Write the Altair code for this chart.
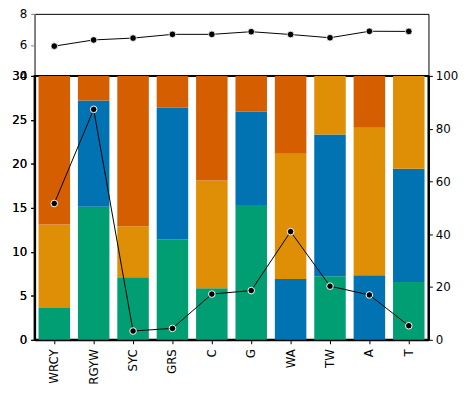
import altair as alt
import pandas as pd

categories = ["WRCY", "RGYW", "SYC", "GRS", "C", "G", "WA", "TW", "A", "T"]
series = ["S1", "S2", "S3", "S4"]
colors = ["#029E73", "#0173B2", "#DE8F05", "#D55E00"]

# percent composition of each bar (bottom to top)
s1_pct = [12.1, 50.4, 23.7, 38.1, 19.5, 51.1, 0.0, 24.1, 0.0, 21.9]
s2_pct = [0.0, 40.3, 0.0, 49.8, 0.0, 35.3, 23.0, 53.7, 24.5, 42.9]
s3_pct = [31.6, 0.0, 19.3, 0.0, 40.9, 0.0, 47.5, 22.2, 55.9, 35.2]
s4_pct = [56.3, 9.3, 57.0, 12.1, 39.6, 13.6, 29.5, 0.0, 19.6, 0.0]

# line on the left axis of the lower panel
lower_line = [15.5, 26.2, 1.0, 1.3, 5.2, 5.6, 12.3, 6.1, 5.1, 1.6]
# line of the upper panel
upper_line = [5.92, 6.32, 6.44, 6.68, 6.68, 6.85, 6.67, 6.46, 6.88, 6.87]

rows = []
for i, cat in enumerate(categories):
    for j, (name, vals) in enumerate(zip(series, [s1_pct, s2_pct, s3_pct, s4_pct])):
        rows.append({"cat": cat, "series": name, "idx": j, "pct": vals[i]})
bars_df = pd.DataFrame(rows)
line_df = pd.DataFrame({"cat": categories, "low": lower_line, "up": upper_line})

FONT = "DejaVu Sans"
xscale = alt.Scale(domain=categories, paddingInner=0.2, paddingOuter=0.1)

# ---------- upper panel ----------
x_top = alt.X("cat:N", sort=categories, scale=xscale, axis=None)
y_top = alt.Y(
    "up:Q",
    scale=alt.Scale(domain=[4, 8], nice=False, zero=False),
    axis=alt.Axis(values=[4, 6, 8], title=None, grid=False, domainColor="#808080",
                  domainWidth=1.5, tickColor="#808080", tickSize=4, labelPadding=4,
                  labelFont=FONT, labelFontSize=12, labelColor="black", zindex=1),
)
top_line = alt.Chart(line_df).mark_line(color="black", strokeWidth=1).encode(x=x_top, y=y_top)
top_pts = alt.Chart(line_df).mark_circle(fill="black", stroke="white", strokeWidth=0.8,
                                         size=45, opacity=1).encode(x=x_top, y=y_top)
top = alt.layer(top_line, top_pts).properties(
    width=400, height=63, view=alt.ViewBackground(stroke="black", strokeWidth=1)
)

# ---------- lower panel ----------
x_bot = alt.X("cat:N", sort=categories, scale=xscale,
              axis=alt.Axis(title=None, labelAngle=270, labelFont=FONT, labelFontSize=12,
                            labelColor="black", tickColor="black", tickSize=4,
                            labelPadding=5, domainColor="black", domainWidth=2))
bars = alt.Chart(bars_df).mark_bar().encode(
    x=x_bot,
    y=alt.Y("pct:Q", stack="zero", scale=alt.Scale(domain=[0, 100], nice=False),
            axis=alt.Axis(orient="right", values=[0, 20, 40, 60, 80, 100], title=None,
                          grid=False, domainColor="black", domainWidth=2,
                          tickColor="black", tickSize=4, labelPadding=3,
                          labelFont=FONT, labelFontSize=12, labelColor="black")),
    color=alt.Color("series:N", scale=alt.Scale(domain=series, range=colors), legend=None),
    order=alt.Order("idx:Q", sort="ascending"),
)
y_low = alt.Y("low:Q", scale=alt.Scale(domain=[0, 30], nice=False),
              axis=alt.Axis(orient="left", values=[0, 5, 10, 15, 20, 25, 30], title=None,
                            grid=False, domainColor="black", domainWidth=2,
                            tickColor="black", tickSize=4, labelPadding=4,
                            labelFont=FONT, labelFontSize=12, labelColor="black"))
low_line = alt.Chart(line_df).mark_line(color="black", strokeWidth=1).encode(x=x_bot, y=y_low)
low_pts = alt.Chart(line_df).mark_circle(fill="black", stroke="white", strokeWidth=1,
                                         size=45, opacity=1).encode(x=x_bot, y=y_low)
bottom = alt.layer(bars, low_line, low_pts).resolve_scale(y="independent").properties(
    width=400, height=268, view=alt.ViewBackground(stroke="black", strokeWidth=2)
)

chart = alt.vconcat(top, bottom, spacing=0, bounds="flush").properties(
    padding={"left": 2, "top": -4, "right": 0, "bottom": 2}
).configure_view(fill="white")

chart.save("out.html", embed_options={"renderer": "svg", "actions": False})
